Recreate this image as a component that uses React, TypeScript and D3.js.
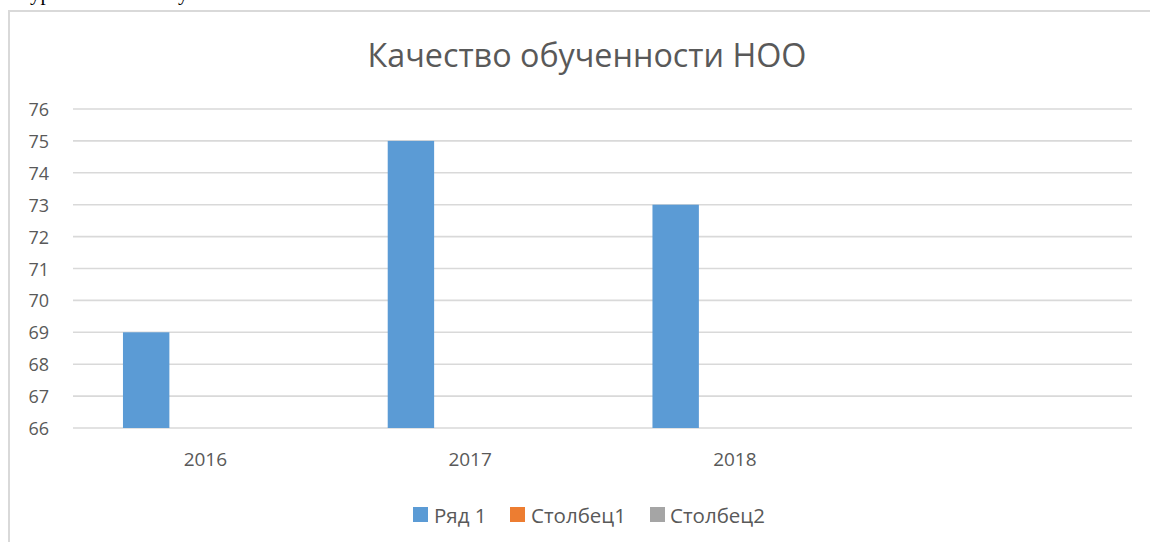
import React from "react";
import * as d3 from "d3";

const categories = ["2016", "2017", "2018", ""];
const seriesNames = ["Ряд 1", "Столбец1", "Столбец2"];
const seriesColors = ["#5B9BD5", "#ED7D31", "#A5A5A5"];
const row1: (number | null)[] = [69, 75, 73, null];
const col1: (number | null)[] = [null, null, null, null];
const col2: (number | null)[] = [null, null, null, null];
const yTicks = [66, 67, 68, 69, 70, 71, 72, 73, 74, 75, 76];
const title = "Качество обученности НОО";

const W = 1150;
const H = 542;
const plotLeft = 73;
const plotRight = 1132;
const plotTop = 109;
const plotBottom = 428;
const FONT = "'Open Sans', 'Noto Sans', sans-serif";

export default function App() {
  const seriesData = [row1, col1, col2];
  const x = d3.scaleBand<string>().domain(categories.map((c, i) => String(i))).range([plotLeft, plotRight]).padding(0);
  const xs = d3
    .scaleBand<string>()
    .domain(seriesNames)
    .range([0, x.bandwidth()])
    .paddingInner(0.216)
    .paddingOuter(0.844);
  const y = d3.scaleLinear().domain([66, 76]).range([plotBottom, plotTop]);

  const legendItems = [
    { x: 413, textX: 434 },
    { x: 510, textX: 531 },
    { x: 650, textX: 670 },
  ];

  return (
    <svg
      width={W}
      height={H}
      style={{ position: "absolute", left: 0, top: 0, background: "#fff" }}
    >
      <rect x={0} y={0} width={W} height={H} fill="#fff" />
      <text x={30} y={0} fontFamily="'Liberation Serif', serif" fontSize={21} fill="#000">
        урок
      </text>
      <text x={178} y={0} fontFamily="'Liberation Serif', serif" fontSize={21} fill="#000">
        у
      </text>
      <rect x={9} y={11} width={W + 20} height={H + 20} fill="#fff" stroke="#D9D9D9" strokeWidth={2} />
      <text x={587} y={67} textAnchor="middle" fontFamily={FONT} fontSize={32.3} fill="#595959">
        {title}
      </text>
      {yTicks.map((t) => (
        <g key={t}>
          <line x1={plotLeft} x2={plotRight} y1={y(t)} y2={y(t)} stroke="#D9D9D9" strokeWidth={1.6} />
          <text
            x={49}
            y={y(t)}
            textAnchor="end"
            dominantBaseline="central"
            fontFamily={FONT}
            fontSize={18}
            fill="#595959"
          >
            {t}
          </text>
        </g>
      ))}
      {seriesData.map((arr, si) =>
        arr.map((v, ci) =>
          v == null ? null : (
            <rect
              key={`${si}-${ci}`}
              x={(x(String(ci)) as number) + (xs(seriesNames[si]) as number)}
              y={y(v)}
              width={xs.bandwidth()}
              height={y(66) - y(v)}
              fill={seriesColors[si]}
            />
          )
        )
      )}
      {categories.map((c, i) => (
        <text
          key={i}
          x={(x(String(i)) as number) + x.bandwidth() / 2}
          y={459}
          textAnchor="middle"
          dominantBaseline="central"
          fontFamily={FONT}
          fontSize={19}
          fill="#595959"
        >
          {c}
        </text>
      ))}
      {seriesNames.map((n, i) => (
        <g key={n}>
          <rect x={legendItems[i].x} y={507} width={15} height={15} fill={seriesColors[i]} />
          <text
            x={legendItems[i].textX}
            y={515}
            dominantBaseline="central"
            fontFamily={FONT}
            fontSize={20.5}
            fill="#595959"
          >
            {n}
          </text>
        </g>
      ))}
    </svg>
  );
}
